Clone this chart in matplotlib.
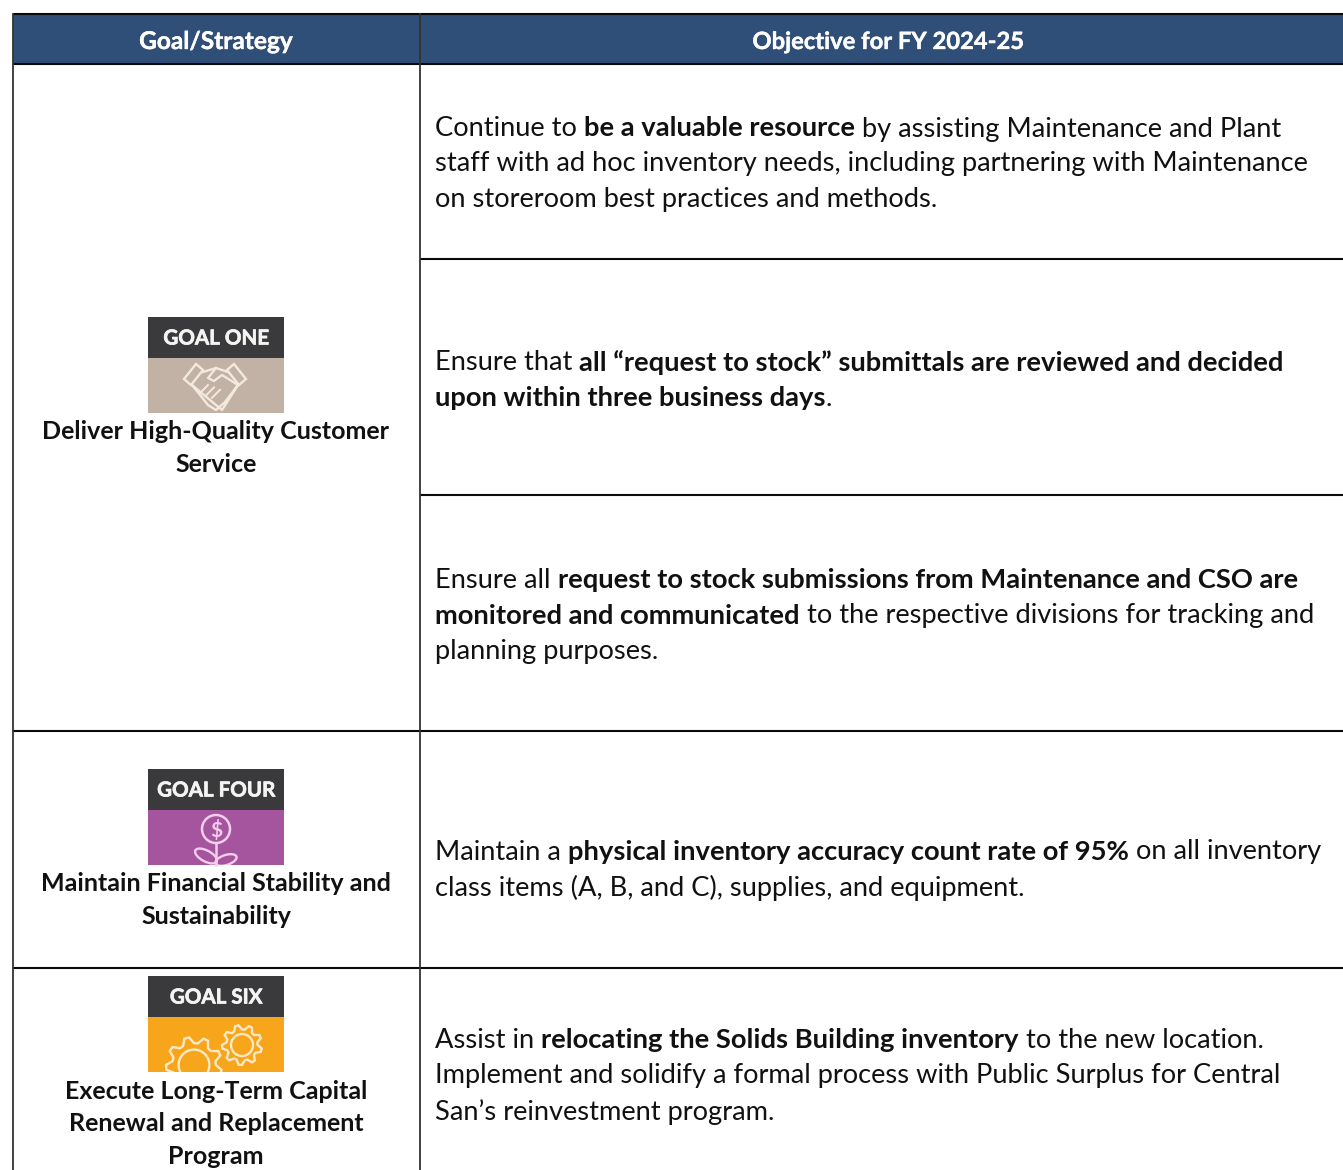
import numpy as np
import matplotlib
matplotlib.use("Agg")
import matplotlib.pyplot as plt
import matplotlib.patheffects as pe
from matplotlib.patches import Rectangle, Circle, Polygon, Ellipse

W, H = 1343, 1170
FONT = "Lato"

header_labels = ["Goal/Strategy", "Objective for FY 2024-25"]
goal_badges = ["GOAL ONE", "GOAL FOUR", "GOAL SIX"]
goal_names = [
    ["Deliver High-Quality Customer", "Service"],
    ["Maintain Financial Stability and", "Sustainability"],
    ["Execute Long-Term Capital", "Renewal and Replacement", "Program"],
]
objectives = [
    [[("Continue to ", 0), ("be a valuable resource", 1), (" by assisting Maintenance and Plant", 0)],
     [("staff with ad hoc inventory needs, including partnering with Maintenance", 0)],
     [("on storeroom best practices and methods.", 0)]],
    [[("Ensure that ", 0), ("all “request to stock” submittals are reviewed and decided", 1)],
     [("upon within three business days", 1), (".", 0)]],
    [[("Ensure all ", 0), ("request to stock submissions from Maintenance and CSO are", 1)],
     [("monitored and communicated", 1), (" to the respective divisions for tracking and", 0)],
     [("planning purposes.", 0)]],
    [[("Maintain a ", 0), ("physical inventory accuracy count rate of 95%", 1), (" on all inventory", 0)],
     [("class items (A, B, and C), supplies, and equipment.", 0)]],
    [[("Assist in ", 0), ("relocating the Solids Building inventory", 1), (" to the new location.", 0)],
     [("Implement and solidify a formal process with Public Surplus for Central", 0)],
     [("San’s reinvestment program.", 0)]],
]
objective_line_y = [[126.5, 161.5, 197.5], [360.5, 395.5], [577.5, 613.5, 649.5], [849.5, 885.5], [1037.5, 1073.5, 1109.5]]
goal_line_y = [[429.5, 462.5], [881.5, 914.5], [1089.5, 1121.5, 1154.5]]
badge_top = [317, 769, 976]
badge_split = [358, 810, 1017]
badge_colors = ["#C2B1A5", "#A4559D", "#F7A51B"]

fig = plt.figure(figsize=(W / 100, H / 100), dpi=100, facecolor="white")
ax = fig.add_axes([0, 0, 1, 1])
ax.set_xlim(0, W)
ax.set_ylim(H, 0)
ax.axis("off")
rend = fig.canvas.get_renderer()
BODY = {0: 19.66, 1: 19.72}
GOAL = 18.0
INK = "#111111"
HEAVY = [pe.withStroke(linewidth=0.25, foreground="white")]
BADGE = [pe.withStroke(linewidth=0.5, foreground="#F4F4F2")]


def runs(x, y, segs):
    for s, b in segs:
        t = ax.text(x, y, s, fontsize=BODY[b], family=FONT, color=INK,
                    fontweight="bold" if b else "normal", va="center_baseline", ha="left")
        w, _, _ = rend.get_text_width_height_descent(
            s.replace(" ", "\u00a0"), t.get_fontproperties(), False)
        x += w


ax.add_patch(Rectangle((13, 14), W - 13, 50, fc="#304F78", ec="none"))
for y in [14, 64, 731, 968]:
    ax.plot([13, W], [y, y], color="#0a0a0a", lw=1.5, solid_capstyle="butt")
for y in [259, 495]:
    ax.plot([420, W], [y, y], color="#0a0a0a", lw=1.5, solid_capstyle="butt")
ax.plot([13, 13], [14, H], color="#333333", lw=1.3)
ax.plot([420, 420], [14, H], color="#333333", lw=1.3)

for label, x, fs in zip(header_labels, [216, 888], [17.6, 17.1]):
    ax.text(x, 39.5, label, color="white", fontsize=fs, family=FONT, fontweight="bold",
            ha="center", va="center_baseline", path_effects=HEAVY)

for para, ys in zip(objectives, objective_line_y):
    for segs, y in zip(para, ys):
        runs(435, y, segs)

for lines, ys in zip(goal_names, goal_line_y):
    for s, y in zip(lines, ys):
        ax.text(216, y, s, fontsize=GOAL, family=FONT, fontweight="bold", color=INK,
                ha="center", va="center_baseline")


def gear(cx, cy, r, clip, teeth=8):
    ang = np.linspace(0, 2 * np.pi, teeth * 4, endpoint=False) + np.pi / teeth / 2
    rad = np.tile([r, r, r * 0.78, r * 0.78], teeth)
    pts = np.c_[cx + rad * np.cos(ang), cy + rad * np.sin(ang)]
    p = Polygon(pts, closed=True, fc="none", ec="#FCE9C4", lw=1.7)
    ax.add_patch(p)
    p.set_clip_path(clip)
    c = Circle((cx, cy), r * 0.55, fc="none", ec="#FCE9C4", lw=1.7)
    ax.add_patch(c)
    c.set_clip_path(clip)


for i, (name, top, split, col) in enumerate(zip(goal_badges, badge_top, badge_split, badge_colors)):
    box = Rectangle((148, top), 136, 96, fc=col, ec="none")
    ax.add_patch(box)
    ax.add_patch(Rectangle((148, top), 136, split - top, fc="#3A3A3D", ec="none"))
    ax.text(216, (top + split) / 2 - 1, name, color="#F4F4F2", fontsize=14.8, family=FONT,
            fontweight="bold", ha="center", va="center_baseline", path_effects=BADGE)
    if i == 0:  # handshake
        c = "#F3E9DF"
        ax.add_patch(Polygon([(184, 379), (196, 364), (203, 370), (191, 385)], closed=True, fc="none", ec=c, lw=1.7))
        ax.add_patch(Polygon([(246, 379), (234, 364), (227, 370), (239, 385)], closed=True, fc="none", ec=c, lw=1.7))
        ax.plot([203, 216, 228], [372, 368, 372], color=c, lw=1.7)
        ax.plot([192, 216, 222, 238, 225, 216, 208, 192],
                [385, 405, 410, 385, 402, 410, 405, 385], color=c, lw=1.7)
        ax.plot([216, 208, 214, 222, 238], [368, 378, 381, 375, 385], color=c, lw=1.7)
        for dx in (0, 6, 12):
            ax.plot([200 + dx, 208 + dx], [393 + dx * .4, 385 + dx * .4], color=c, lw=1.4)
    elif i == 1:  # flower with dollar coin
        c = "#F4CDEE"
        ax.add_patch(Circle((216, 829), 14, fc="none", ec=c, lw=1.8))
        ax.text(216, 829, r"\$", color=c, fontsize=15, family=FONT, fontweight="bold",
                ha="center", va="center_baseline")
        ax.plot([216, 216], [843, 865], color=c, lw=1.8)
        l1 = Ellipse((206, 856), 24, 11, angle=28, fc="none", ec=c, lw=1.7)
        l2 = Ellipse((226, 860), 22, 10, angle=-18, fc="none", ec=c, lw=1.7)
        for l in (l1, l2):
            ax.add_patch(l)
            l.set_clip_path(box)
    else:  # gears
        gear(194, 1065, 28, box, teeth=9)
        gear(242, 1045, 20, box, teeth=9)

fig.savefig("out.png", dpi=100)
